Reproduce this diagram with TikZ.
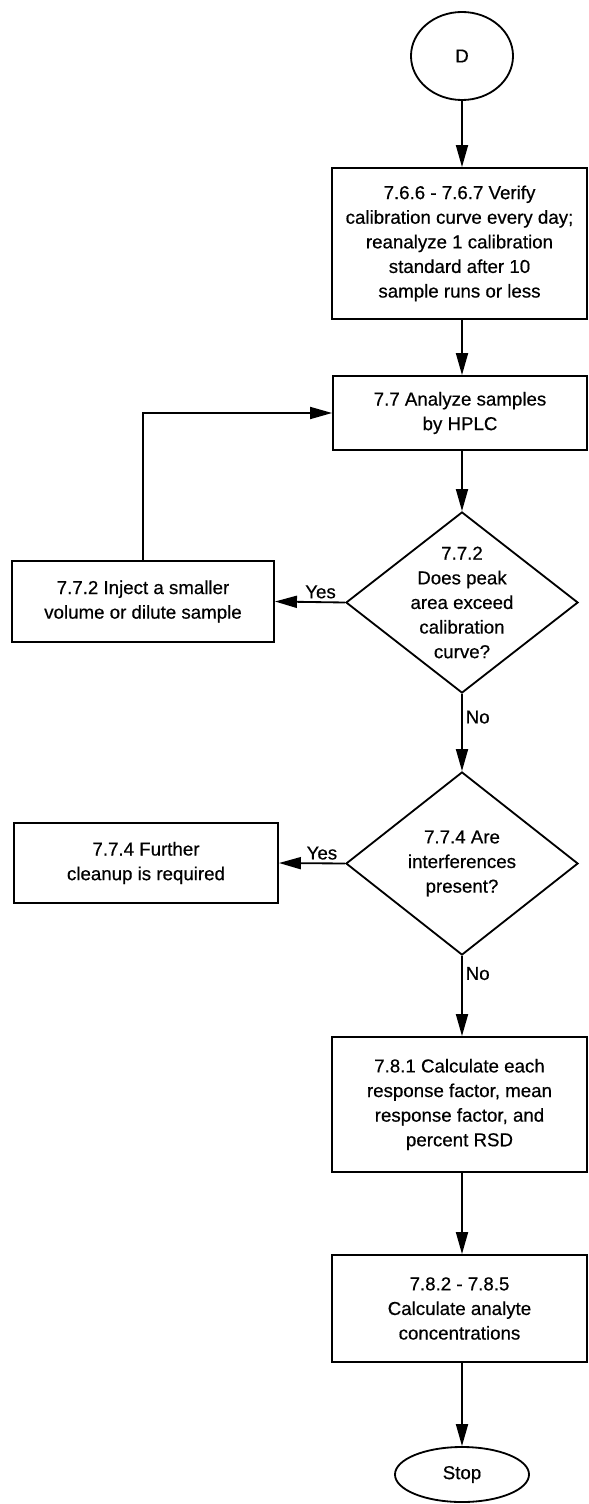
\documentclass[tikz,border=0pt]{standalone}
\usepackage{fontspec}
\setmainfont{Liberation Sans}[FakeBold=0.5]
\usetikzlibrary{shapes.geometric,arrows.meta}

\tikzset{
  every node/.style={font=\fontsize{13.3}{17.5}\selectfont},
  stepbox/.style={draw, line width=1.3pt, align=center, inner sep=2pt},
  decision/.style={draw, diamond, line width=1.3pt, inner sep=0pt},
  decisiontext/.style={align=center, inner sep=0pt},
  terminal/.style={draw, ellipse, line width=1.3pt, inner sep=0pt},
  arr/.style={line width=1.3pt, -{Triangle[length=0.55cm,width=0.3cm]}},
  lbl/.style={inner sep=2pt}
}

\begin{document}
\begin{tikzpicture}[x=0.025cm, y=-0.025cm]
  \useasboundingbox (0,0) rectangle (589,1504);

  \node[terminal, minimum width=2.55cm, minimum height=2.2cm] (d) at (462,56) {D};

  \node[stepbox, minimum width=6.375cm, minimum height=3.775cm] (verify) at (459.5,243.5)
    {7.6.6 - 7.6.7 Verify\\ calibration curve every day;\\ reanalyze 1 calibration\\ standard after 10\\ sample runs or less};

  \node[stepbox, minimum width=6.35cm, minimum height=1.85cm] (analyze) at (460,413)
    {7.7 Analyze samples\\ by HPLC};

  \node[decision, minimum width=5.8cm, minimum height=4.525cm] (peak) at (462,602.5) {};
  \node[decisiontext] (peaktext) at (peak) {7.7.2\\ Does peak\\ area exceed\\ calibration\\ curve?};

  \node[stepbox, minimum width=6.55cm, minimum height=2.025cm] (inject) at (143,601.5)
    {7.7.2 Inject a smaller\\ volume or dilute sample};

  \node[decision, minimum width=5.8cm, minimum height=4.575cm] (interf) at (462,863.5) {};
  \node[decisiontext] (interftext) at (interf) {7.7.4 Are\\ interferences\\ present?};

  \node[stepbox, minimum width=6.6cm, minimum height=2cm] (cleanup) at (146,863)
    {7.7.4 Further\\ cleanup is required};

  \node[stepbox, minimum width=6.375cm, minimum height=3.375cm] (respf) at (459.5,1104.5)
    {7.8.1 Calculate each\\ response factor, mean\\ response factor, and\\ percent RSD};

  \node[stepbox, minimum width=6.375cm, minimum height=2.675cm] (conc) at (459.5,1308.5)
    {7.8.2 - 7.8.5\\ Calculate analyte\\ concentrations};

  \node[terminal, minimum width=3.35cm, minimum height=1.375cm] (stop) at (462,1474.5) {Stop};

  % main flow
  \draw[arr] (d.south) -- (d.south |- verify.north);
  \draw[arr] (d.south |- verify.south) -- (d.south |- analyze.north);
  \draw[arr] (peak.north |- analyze.south) -- (peak.north);
  \draw[arr] (peak.south) -- node[lbl, right, pos=0.3] {No} (interf.north);
  \draw[arr] (interf.south) -- node[lbl, right, pos=0.22] {No} (interf.south |- respf.north);
  \draw[arr] (interf.south |- respf.south) -- (interf.south |- conc.north);
  \draw[arr] (stop.north |- conc.south) -- (stop.north);

  % side branches
  \draw[arr] (peak.west) -- node[lbl, above, pos=0.35] {Yes} (inject.east);
  \draw[arr] (inject.north) |- (analyze.west);
  \draw[arr] (interf.west) -- node[lbl, above, pos=0.35] {Yes} (cleanup.east);
\end{tikzpicture}
\end{document}
